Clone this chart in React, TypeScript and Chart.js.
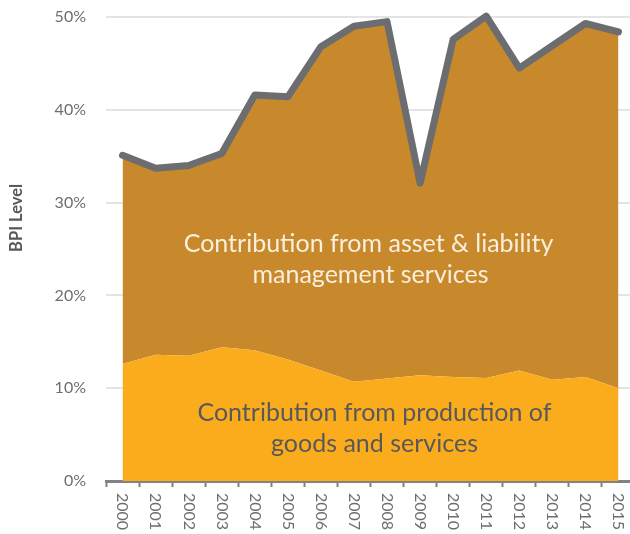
import React, { useEffect, useRef } from "react";
import { Chart, registerables } from "chart.js";

Chart.register(...registerables);

const years = ["2000", "2001", "2002", "2003", "2004", "2005", "2006", "2007", "2008", "2009", "2010", "2011", "2012", "2013", "2014", "2015"];
const goodsServices = [12.6, 13.6, 13.5, 14.4, 14.1, 13.1, 11.9, 10.7, 11.05, 11.4, 11.2, 11.1, 11.9, 10.9, 11.2, 10.0];
const totalBPI = [35.1, 33.7, 34.0, 35.3, 41.6, 41.4, 46.8, 49.0, 49.5, 32.1, 47.6, 50.1, 44.5, 46.9, 49.3, 48.4];
const yTicks = [0, 10, 20, 30, 40, 50];

const assetLabel = ["Contribution from asset & liability", "management services"];
const goodsLabel = ["Contribution from production of", "goods and services"];
const yTitle = "BPI Level";

const FONT = "Lato, 'Open Sans', sans-serif";

const overlayPlugin = {
  id: "overlayText",
  afterDatasetsDraw(chart: any) {
    const { ctx, chartArea, scales } = chart;
    const y = scales.y;
    const cx = (chartArea.left + chartArea.right) / 2;
    ctx.save();
    ctx.textAlign = "center";
    ctx.textBaseline = "alphabetic";
    ctx.font = `25px ${FONT}`;
    ctx.fillStyle = "#f8efdc";
    ctx.fillText(assetLabel[0], cx - 2, y.getPixelForValue(24.7));
    ctx.fillText(assetLabel[1], cx, y.getPixelForValue(21.3));
    ctx.fillStyle = "#58595b";
    ctx.fillText(goodsLabel[0], cx + 4, y.getPixelForValue(6.45));
    ctx.fillText(goodsLabel[1], cx + 4, y.getPixelForValue(3.14));
    ctx.restore();
  },
  afterDraw(chart: any) {
    const { ctx, chartArea, scales } = chart;
    const x = scales.x;
    const y = scales.y;
    ctx.save();
    ctx.font = `16px ${FONT}`;
    ctx.fillStyle = "#6d6e71";
    ctx.textAlign = "left";
    ctx.textBaseline = "middle";
    years.forEach((lab, i) => {
      const px = x.getPixelForValue(i);
      ctx.save();
      ctx.translate(px, chartArea.bottom + 12);
      ctx.rotate(Math.PI / 2);
      ctx.fillText(lab, 0, 0);
      ctx.restore();
    });
    ctx.font = `bold 16.5px ${FONT}`;
    ctx.fillStyle = "#58595b";
    ctx.textAlign = "center";
    ctx.save();
    ctx.translate(16.5, y.getPixelForValue(28.35));
    ctx.rotate(-Math.PI / 2);
    ctx.fillText(yTitle, 0, 0);
    ctx.restore();
    ctx.restore();
  },
};

export default function App() {
  const ref = useRef<HTMLCanvasElement>(null);
  useEffect(() => {
    if (!ref.current) return;
    const chart = new Chart(ref.current, {
      type: "line",
      data: {
        labels: years,
        datasets: [
          {
            label: "Goods and services",
            data: goodsServices,
            fill: "origin",
            backgroundColor: "#fbac1c",
            borderWidth: 0,
            pointRadius: 0,
            tension: 0,
          },
          {
            label: "Total BPI",
            data: totalBPI,
            fill: "-1",
            backgroundColor: "#c8892c",
            borderColor: "#6c6d70",
            borderWidth: 7,
            borderCapStyle: "round",
            borderJoinStyle: "round",
            pointRadius: 0,
            tension: 0,
            clip: false,
          },
        ],
      },
      options: {
        responsive: false,
        animation: false,
        layout: { padding: { top: 17, bottom: 47, left: 0, right: 0 } },
        plugins: {
          legend: { display: false },
          tooltip: { enabled: false },
        },
        scales: {
          x: {
            type: "category",
            offset: true,
            z: 1,
            grid: {
              offset: true,
              drawOnChartArea: false,
              drawTicks: true,
              tickLength: 6,
              tickColor: "#808285",
              tickWidth: 2,
            },
            border: { display: true, color: "#808285", width: 3 },
            ticks: { display: false },
          },
          y: {
            min: 0,
            max: 50,
            afterBuildTicks: (scale: any) => {
              scale.ticks = yTicks.map((v) => ({ value: v }));
            },
            afterFit: (scale: any) => {
              scale.width = 106;
            },
            grid: {
              color: "#e4e4e4",
              lineWidth: 2,
              drawTicks: true,
              tickLength: 20,
              tickColor: "rgba(0,0,0,0)",
            },
            border: { display: false },
            ticks: {
              padding: 0,
              color: "#6d6e71",
              font: { family: FONT, size: 16 },
              callback: (v: any) => v + "%",
            },
          },
        },
      },
      plugins: [overlayPlugin],
    });
    return () => chart.destroy();
  }, []);
  return (
    <div style={{ position: "fixed", left: 0, top: 0, width: 630, height: 534, overflow: "hidden", background: "#fff" }}>
      <canvas ref={ref} width={635} height={534} style={{ display: "block", width: 635, height: 534 }} />
    </div>
  );
}
